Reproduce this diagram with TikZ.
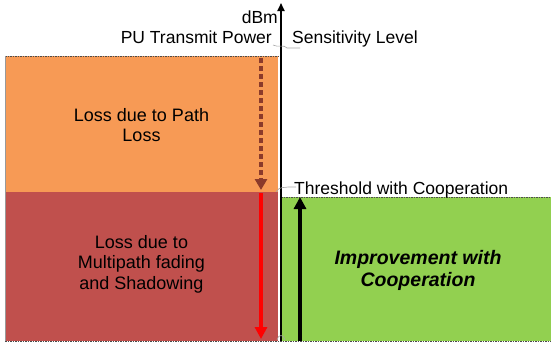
\documentclass[tikz,border=0pt]{standalone}
\usepackage{fontspec}
\setmainfont{Liberation Sans}
\usetikzlibrary{arrows.meta}
\definecolor{orng}{HTML}{F79A55}
\definecolor{rdd}{HTML}{C0504D}
\definecolor{grn}{HTML}{92D050}
\definecolor{brn}{HTML}{8B3A2A}
\tikzset{
  lbl/.style={font=\fontsize{17.5}{20}\selectfont, inner sep=0pt},
  boxtxt/.style={font=\fontsize{18}{20.5}\selectfont, align=center, inner sep=0pt},
  edge/.style={draw=black!70, line width=0.6pt, dash pattern=on 1.5pt off 1pt},
  callout/.style={draw=gray!70, line width=0.6pt},
}
\begin{document}
\begin{tikzpicture}[x=1pt,y=-1pt]
\useasboundingbox (0,0) rectangle (551,343);
% regions
\fill[orng] (5,56) rectangle (278,192);
\fill[rdd] (5,192) rectangle (278,341);
\fill[grn] (281,197) rectangle (551,341);
\draw[edge] (5,56) -- (278,56);
\draw[edge] (281,197) -- (551,197);
\draw[edge] (5,341) -- (551,341);
\draw[black!40, line width=0.8pt] (5,56) -- (5,341);
% named points
\coordinate (axb) at (281,341);
\coordinate (axt) at (281,3);
\coordinate (d1) at (261,58);
\coordinate (d2) at (261,190);
\coordinate (r1) at (261,193);
\coordinate (r2) at (261,339);
\coordinate (u1) at (300,341);
\coordinate (u2) at (300,197);
% axis
\draw[line width=1.7pt, -{Triangle[length=8pt,width=7pt]}] (axb) -- (axt);
% arrows
\draw[brn, line width=3.2pt, dash pattern=on 5pt off 3pt, -{Triangle[length=11pt,width=12pt]}] (d1) -- (d2);
\draw[red, line width=3.4pt, -{Triangle[length=12pt,width=12pt]}] (r1) -- (r2);
\draw[black, line width=3.4pt, -{Triangle[length=12pt,width=12pt]}] (u1) -- (u2);
% labels
\node[lbl, anchor=base east] (dbm) at (278,23) {dBm};
\node[lbl, anchor=base east] (pu) at (272,43) {PU Transmit Power};
\node[lbl, anchor=base west] (sens) at (292,43) {Sensitivity Level};
\node[lbl, anchor=base west] (thr) at (294,194) {Threshold with Cooperation};
% callouts
\draw[callout] (273,45) .. controls (278,48) and (284,44) .. (287,48) -- (300,48);
\draw[callout] (276,192) .. controls (279,186) and (285,188) .. (288,187) -- (296,187);
\draw[callout] (277,340) .. controls (278,334) and (284,334) .. (285,340);
% box texts
\node[boxtxt] (t1) at (141.5,125) {Loss due to Path\\Loss};
\node[boxtxt] (t2) at (141.5,264) {Loss due to\\Multipath fading\\and Shadowing};
\node[font=\fontsize{19.5}{22}\selectfont\bfseries\itshape, align=center, inner sep=0pt] (t3) at (418,270) {Improvement with\\Cooperation};
\end{tikzpicture}
\end{document}
